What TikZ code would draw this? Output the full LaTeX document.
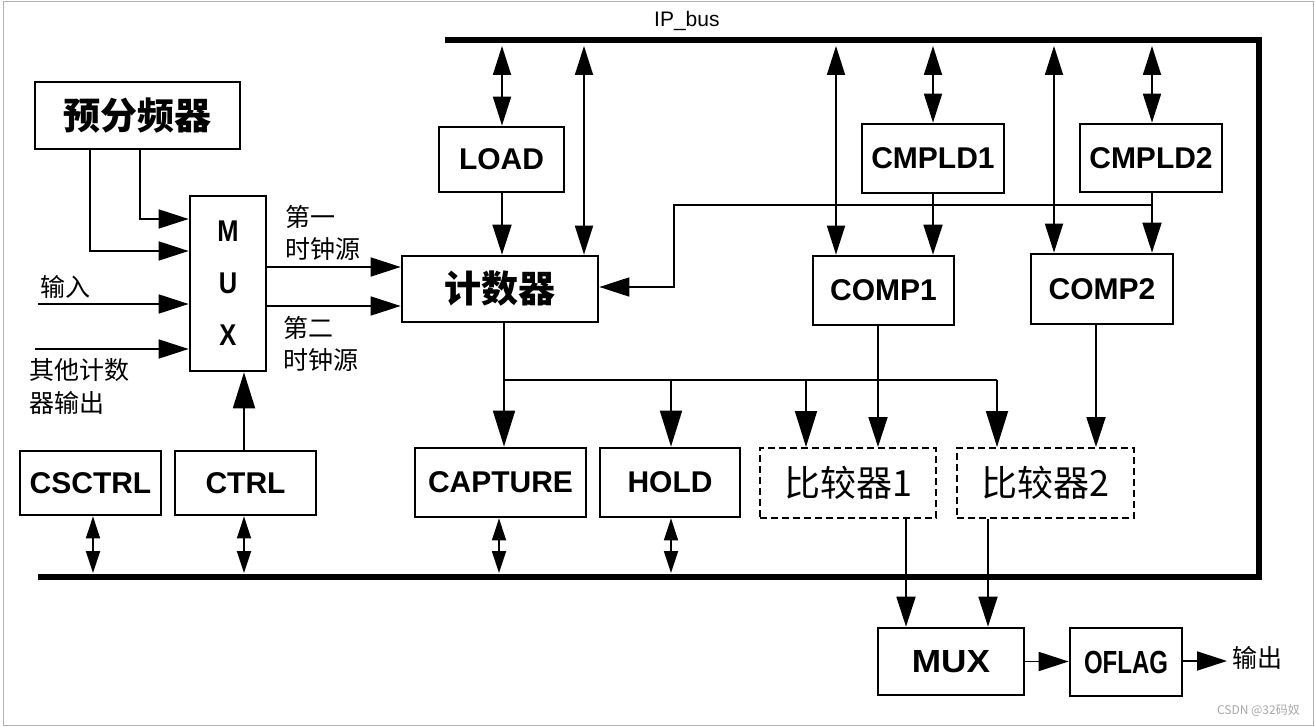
\documentclass[tikz,border=0pt]{standalone}
\usepackage{fontspec}
\setmainfont{Liberation Sans}
\newfontfamily\cjk{Noto Sans CJK SC}
\usetikzlibrary{arrows.meta}
\begin{document}
\begin{tikzpicture}[x=1pt,y=-1pt,
  box/.style={draw,line width=2.7pt,inner sep=0pt,font=\fontsize{30}{30}\selectfont\bfseries},
  dbox/.style={draw,line width=2pt,dash pattern=on 7pt off 4pt,inner sep=0pt,font=\cjk\fontsize{36}{36}\selectfont},
  conn/.style={line width=1.8pt},
  arr/.style={conn,-{Triangle[length=30pt,width=19pt]}},
  barr/.style={conn,-{Triangle[length=36pt,width=22pt]}},
  darr/.style={conn,{Triangle[length=29pt,width=18pt]}-{Triangle[length=29pt,width=18pt]}},
  sdarr/.style={conn,{Triangle[length=22pt,width=14pt]}-{Triangle[length=22pt,width=14pt]}},
  bus/.style={line width=6pt,line join=miter},
  lbl/.style={font=\cjk\fontsize{25}{25}\selectfont,inner sep=0pt,anchor=west}]
\useasboundingbox (0,0) rectangle (1315,727);
\draw[gray!60,line width=1pt] (3,2) rectangle (1313,725);

% bus
\draw[bus] (445,40) -- (1259,40) -- (1259,577) -- (38,577);
\node[anchor=base west,inner sep=0pt,font=\fontsize{21}{21}\selectfont] (ipbus) at (654,27) {IP\_bus};

% boxes
\node[box,minimum width=205pt,minimum height=67pt] (pre) at (137.5,115.5) {\cjk\bfseries\fontsize{37}{37}\selectfont 预分频器};
\node[box,minimum width=76pt,minimum height=175pt,align=center,font=\fontsize{30}{52}\selectfont\bfseries] (muxL) at (228,283.5) {\scalebox{0.85}[1]{M}\\\scalebox{0.85}[1]{U}\\\scalebox{0.85}[1]{X}};
\node[box,minimum width=125pt,minimum height=65pt] (load) at (501.5,159.5) {LOAD};
\node[box,minimum width=196pt,minimum height=66pt] (cnt) at (500,289) {\cjk\bfseries\fontsize{37}{37}\selectfont 计数器};
\node[box,minimum width=142pt,minimum height=69pt] (cmpld1) at (933,158.5) {CMPLD1};
\node[box,minimum width=142pt,minimum height=68pt] (cmpld2) at (1151,158) {CMPLD2};
\node[box,minimum width=141pt,minimum height=69pt] (comp1) at (883.5,290.5) {COMP1};
\node[box,minimum width=142pt,minimum height=70pt] (comp2) at (1102,289) {COMP2};
\node[box,minimum width=141pt,minimum height=64pt] (csctrl) at (90.5,483) {CSCTRL};
\node[box,minimum width=141pt,minimum height=64pt] (ctrl) at (245.5,483) {CTRL};
\node[box,minimum width=171pt,minimum height=69pt] (capture) at (500.5,482.5) {CAPTURE};
\node[box,minimum width=140pt,minimum height=69pt] (hold) at (670,482.5) {HOLD};
\node[dbox,minimum width=176pt,minimum height=70pt] (cmp1) at (848,483) {比较器1};
\node[dbox,minimum width=177pt,minimum height=70pt] (cmp2) at (1045.5,483) {比较器2};
\node[box,minimum width=146pt,minimum height=67pt,font=\fontsize{32}{32}\selectfont\bfseries] (muxB) at (951,661.5) {\scalebox{1.1}[1]{MUX}};
\node[box,minimum width=112pt,minimum height=68pt,font=\fontsize{32}{32}\selectfont\bfseries] (oflag) at (1126,662) {\scalebox{0.75}[1]{OFLAG}};

% labels
\node[lbl] (t1a) at (285,217) {第一};
\node[lbl] (t1b) at (285,249) {时钟源};
\node[lbl] (t2a) at (283,328) {第二};
\node[lbl] (t2b) at (283,360) {时钟源};
\node[lbl] (tin) at (40,287) {输入};
\node[lbl] (tot1) at (29,370) {其他计数};
\node[lbl] (tot2) at (29,403) {器输出};
\node[lbl] (tout) at (1232,658) {输出};
\node[anchor=east,inner sep=0pt,font=\cjk\fontsize{12}{12}\selectfont,text=gray!70] (wm) at (1300,710) {CSDN @32码奴};

% inputs to left MUX
\draw[arr] (pre.south -| 140,0) |- (muxL.west |- 0,219);
\draw[arr] (pre.south -| 90,0) |- (muxL.west |- 0,251);
\coordinate (inS) at (38,304);
\draw[arr] (inS) -- (muxL.west |- inS);
\coordinate (otS) at (35,349);
\draw[arr] (otS) -- (muxL.west |- otS);
\draw[arr] (muxL.east |- 0,267) -- (cnt.west |- 0,267);
\draw[arr] (muxL.east |- 0,306) -- (cnt.west |- 0,306);
\draw[barr] (ctrl.north -| 244,0) -- (muxL.south -| 244,0);

% top bus taps
\coordinate (bL) at (502,46);
\draw[darr] (bL) -- (load.north -| bL);
\draw[arr] (load.south -| bL) -- (cnt.north -| bL);
\coordinate (bC) at (584,46);
\draw[darr] (bC) -- (cnt.north -| bC);
\coordinate (bP1) at (836,46);
\draw[darr] (bP1) -- (comp1.north -| bP1);
\coordinate (bM1) at (933,46);
\draw[darr] (bM1) -- (cmpld1.north -| bM1);
\draw[arr] (cmpld1.south -| bM1) -- (comp1.north -| bM1);
\coordinate (bP2) at (1054,46);
\draw[darr] (bP2) -- (comp2.north -| bP2);
\coordinate (bM2) at (1152,46);
\draw[darr] (bM2) -- (cmpld2.north -| bM2);
\draw[arr] (cmpld2.south -| bM2) -- (comp2.north -| bM2);

% feedback to counter
\coordinate (fb) at (1152,205);
\draw[arr] (fb) -- (674,205) -- (674,287) -- (cnt.east |- 0,287);

% counter fan-out
\coordinate (j0) at (504,380);
\draw[conn] (cnt.south -| j0) -- (j0) -- (997,380);
\draw[barr] (j0) -- (capture.north -| j0);
\draw[barr] (671,380) -- (hold.north -| 671,0);
\draw[barr] (806,380) -- (cmp1.north -| 806,0);
\draw[barr] (997,380) -- (cmp2.north -| 997,0);
\draw[arr] (comp1.south -| 878,0) -- (cmp1.north -| 878,0);
\draw[arr] (comp2.south -| 1096,0) -- (cmp2.north -| 1096,0);

% to bottom MUX and output
\draw[arr] (cmp1.south -| 906,0) -- (muxB.north -| 906,0);
\draw[arr] (cmp2.south -| 988,0) -- (muxB.north -| 988,0);
\draw[arr] (muxB.east) -- (oflag.west |- muxB.east);
\coordinate (outE) at (1227,661);
\draw[arr] (oflag.east |- outE) -- (outE);

% bottom bus taps
\coordinate (s1) at (93,573);
\draw[sdarr] (csctrl.south -| s1) -- (s1);
\coordinate (s2) at (244,573);
\draw[sdarr] (ctrl.south -| s2) -- (s2);
\coordinate (s3) at (499,573);
\draw[sdarr] (capture.south -| s3) -- (s3);
\coordinate (s4) at (671,573);
\draw[sdarr] (hold.south -| s4) -- (s4);
\end{tikzpicture}
\end{document}
